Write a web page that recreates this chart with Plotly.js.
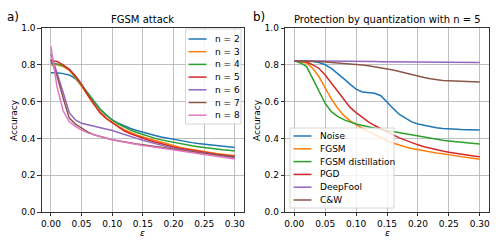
<!DOCTYPE html>
<html>
<head>
<meta charset="utf-8">
<script src="https://cdn.plot.ly/plotly-3.0.1.min.js"></script>
<style>html,body{margin:0;padding:0;background:#fff;}#chart{width:498px;height:249px;}</style>
</head>
<body>
<div id="chart"></div>
<script>
const eps = [0.00,0.01,0.02,0.03,0.04,0.05,0.06,0.07,0.08,0.09,0.10,0.11,0.12,0.13,0.14,0.15,0.16,0.17,0.18,0.19,0.20,0.21,0.22,0.23,0.24,0.25,0.26,0.27,0.28,0.29,0.30];

// Panel a) FGSM attack
const leftNames = ["n = 2","n = 3","n = 4","n = 5","n = 6","n = 7","n = 8"];
const n2 = [0.757,0.757,0.752,0.745,0.725,0.688,0.645,0.600,0.560,0.528,0.500,0.482,0.467,0.454,0.443,0.433,0.424,0.416,0.408,0.401,0.394,0.388,0.382,0.377,0.372,0.368,0.364,0.360,0.357,0.354,0.351];
const n3 = [0.800,0.800,0.790,0.770,0.730,0.685,0.635,0.585,0.545,0.512,0.487,0.465,0.447,0.432,0.419,0.408,0.398,0.388,0.378,0.368,0.360,0.352,0.345,0.339,0.333,0.327,0.322,0.318,0.314,0.310,0.306];
const n4 = [0.808,0.805,0.795,0.775,0.735,0.690,0.645,0.600,0.560,0.528,0.500,0.478,0.460,0.445,0.432,0.420,0.410,0.400,0.392,0.385,0.378,0.372,0.366,0.360,0.355,0.350,0.346,0.342,0.338,0.335,0.332];
const n5 = [0.822,0.818,0.800,0.775,0.740,0.695,0.635,0.585,0.540,0.508,0.484,0.460,0.440,0.425,0.412,0.400,0.390,0.380,0.370,0.361,0.353,0.346,0.340,0.334,0.328,0.323,0.318,0.314,0.310,0.306,0.303];
const n6 = [0.860,0.760,0.650,0.540,0.500,0.482,0.475,0.467,0.460,0.452,0.443,0.432,0.420,0.410,0.400,0.390,0.380,0.370,0.362,0.354,0.347,0.340,0.335,0.330,0.325,0.320,0.315,0.310,0.305,0.300,0.295];
const n7 = [0.830,0.740,0.620,0.510,0.478,0.455,0.435,0.420,0.410,0.400,0.393,0.387,0.380,0.375,0.370,0.365,0.360,0.355,0.350,0.345,0.340,0.335,0.330,0.326,0.322,0.318,0.314,0.310,0.306,0.303,0.300];
const n8 = [0.900,0.680,0.550,0.490,0.465,0.445,0.430,0.420,0.410,0.400,0.393,0.386,0.379,0.373,0.367,0.362,0.357,0.352,0.347,0.342,0.337,0.332,0.327,0.322,0.318,0.313,0.308,0.303,0.298,0.293,0.288];

// Panel b) Protection by quantization with n = 5
const rightNames = ["Noise","FGSM","FGSM distillation","PGD","DeepFool","C&W"];
const noise = [0.822,0.822,0.820,0.818,0.812,0.800,0.780,0.755,0.725,0.695,0.668,0.652,0.648,0.645,0.632,0.600,0.563,0.530,0.508,0.490,0.478,0.470,0.463,0.458,0.454,0.451,0.449,0.448,0.447,0.446,0.446];
const fgsm = [0.822,0.818,0.810,0.780,0.735,0.675,0.615,0.565,0.525,0.497,0.475,0.455,0.437,0.420,0.403,0.388,0.375,0.363,0.353,0.345,0.338,0.332,0.326,0.321,0.316,0.312,0.306,0.301,0.296,0.291,0.287];
const distill = [0.822,0.810,0.790,0.725,0.655,0.590,0.545,0.520,0.502,0.488,0.478,0.470,0.462,0.455,0.449,0.443,0.437,0.430,0.423,0.416,0.410,0.404,0.399,0.394,0.390,0.386,0.382,0.378,0.375,0.372,0.369];
const pgd = [0.822,0.820,0.815,0.800,0.780,0.745,0.700,0.655,0.610,0.570,0.540,0.513,0.490,0.470,0.452,0.435,0.419,0.403,0.389,0.376,0.365,0.355,0.346,0.338,0.331,0.325,0.319,0.314,0.309,0.304,0.300];
const deepfool = [0.822,0.822,0.821,0.821,0.821,0.820,0.820,0.820,0.819,0.819,0.819,0.818,0.818,0.818,0.817,0.817,0.817,0.816,0.816,0.816,0.815,0.815,0.815,0.815,0.814,0.814,0.814,0.814,0.813,0.813,0.813];
const cw = [0.822,0.822,0.821,0.820,0.818,0.815,0.813,0.810,0.808,0.806,0.803,0.799,0.795,0.790,0.785,0.780,0.772,0.764,0.755,0.747,0.739,0.731,0.724,0.718,0.715,0.713,0.712,0.711,0.709,0.708,0.706];

const xTicks = [0,0.05,0.10,0.15,0.20,0.25,0.30];
const yTicks = [0,0.2,0.4,0.6,0.8,1.0];

const colors = ["#1f77b4","#ff7f0e","#2ca02c","#d62728","#9467bd","#8c564b","#e377c2"];
const leftSeries = [n2,n3,n4,n5,n6,n7,n8];
const rightSeries = [noise,fgsm,distill,pgd,deepfool,cw];

const W = 498, H = 249;
const px = v => v / W;
const py = v => 1 - v / H;
const FONT = "DejaVu Sans";

const traces = [];
leftSeries.forEach((s, i) => traces.push({
  x: eps, y: s, type: "scatter", mode: "lines", name: leftNames[i],
  line: {color: colors[i], width: 1.5}, xaxis: "x", yaxis: "y", showlegend: false
}));
rightSeries.forEach((s, i) => traces.push({
  x: eps, y: s, type: "scatter", mode: "lines", name: rightNames[i],
  line: {color: colors[i], width: 1.5}, xaxis: "x2", yaxis: "y2", showlegend: false
}));

function axisX(domain, anchor) {
  return {
    domain: domain, anchor: anchor, range: [-0.015, 0.315],
    tickvals: xTicks, tickformat: ".2f", ticks: "outside", ticklen: 3.5, tickwidth: 0.8, tickcolor: "#000",
    showline: true, mirror: true, linecolor: "#000", linewidth: 0.8,
    showgrid: true, gridcolor: "#b0b0b0", gridwidth: 0.8, zeroline: false,
    tickfont: {family: FONT, size: 9, color: "#000"}
  };
}
function axisY(domain, anchor) {
  return {
    domain: domain, anchor: anchor, range: [0, 1],
    tickvals: yTicks, tickformat: ".1f", ticks: "outside", ticklen: 3.5, tickwidth: 0.8, tickcolor: "#000",
    showline: true, mirror: true, linecolor: "#000", linewidth: 0.8,
    showgrid: true, gridcolor: "#b0b0b0", gridwidth: 0.8, zeroline: false,
    tickfont: {family: FONT, size: 9, color: "#000"}
  };
}

const yDom = [1 - 212 / H, 1 - 28 / H];
const layout = {
  width: W, height: H,
  margin: {l: 0, r: 0, t: 0, b: 0},
  paper_bgcolor: "#fff", plot_bgcolor: "#fff",
  showlegend: false,
  xaxis: axisX([px(41.7), px(244)], "y"),
  yaxis: axisY(yDom, "x"),
  xaxis2: axisX([px(285), px(489)], "y2"),
  yaxis2: axisY(yDom, "x2"),
  annotations: [],
  shapes: []
};

const ann = (text, x, y, size, extra) => Object.assign({
  text: text, x: px(x), y: py(y), xref: "paper", yref: "paper", showarrow: false,
  font: {family: FONT, size: size, color: "#000"}, xanchor: "center", yanchor: "middle"
}, extra || {});

layout.annotations.push(ann("FGSM attack", 142.8, 19, 10));
layout.annotations.push(ann("Protection by quantization with n = 5", 387, 19, 10));
layout.annotations.push(ann("a)", 12.5, 17, 12));
layout.annotations.push(ann("b)", 258.5, 17, 12));
layout.annotations.push(ann("<i>ε</i>", 142.8, 233, 9));
layout.annotations.push(ann("<i>ε</i>", 387, 233, 9));
layout.annotations.push(ann("Accuracy", 14, 120, 9, {textangle: -90}));
layout.annotations.push(ann("Accuracy", 257, 120, 9, {textangle: -90}));

// Legends (matplotlib style)
function legend(names, box, lineX0, lineX1, textX, y0, dy) {
  layout.shapes.push({type: "rect", xref: "paper", yref: "paper",
    x0: px(box[0]), x1: px(box[1]), y0: py(box[2]), y1: py(box[3]),
    fillcolor: "rgba(255,255,255,0.8)", line: {color: "#cccccc", width: 0.8}, layer: "above"});
  names.forEach((nm, i) => {
    const yy = y0 + i * dy;
    layout.shapes.push({type: "line", xref: "paper", yref: "paper",
      x0: px(lineX0), x1: px(lineX1), y0: py(yy), y1: py(yy),
      line: {color: colors[i], width: 1.5}, layer: "above"});
    layout.annotations.push(ann(nm, textX, yy, 9, {xanchor: "left"}));
  });
}
legend(leftNames, [185.5, 241, 29, 124], 188.5, 206.5, 212.5, 39, 12.7);
legend(rightNames, [290, 394, 128, 208], 293.5, 311.5, 317.5, 136, 12.8);

Plotly.newPlot("chart", traces, layout, {displayModeBar: false, staticPlot: true});
</script>
</body>
</html>
